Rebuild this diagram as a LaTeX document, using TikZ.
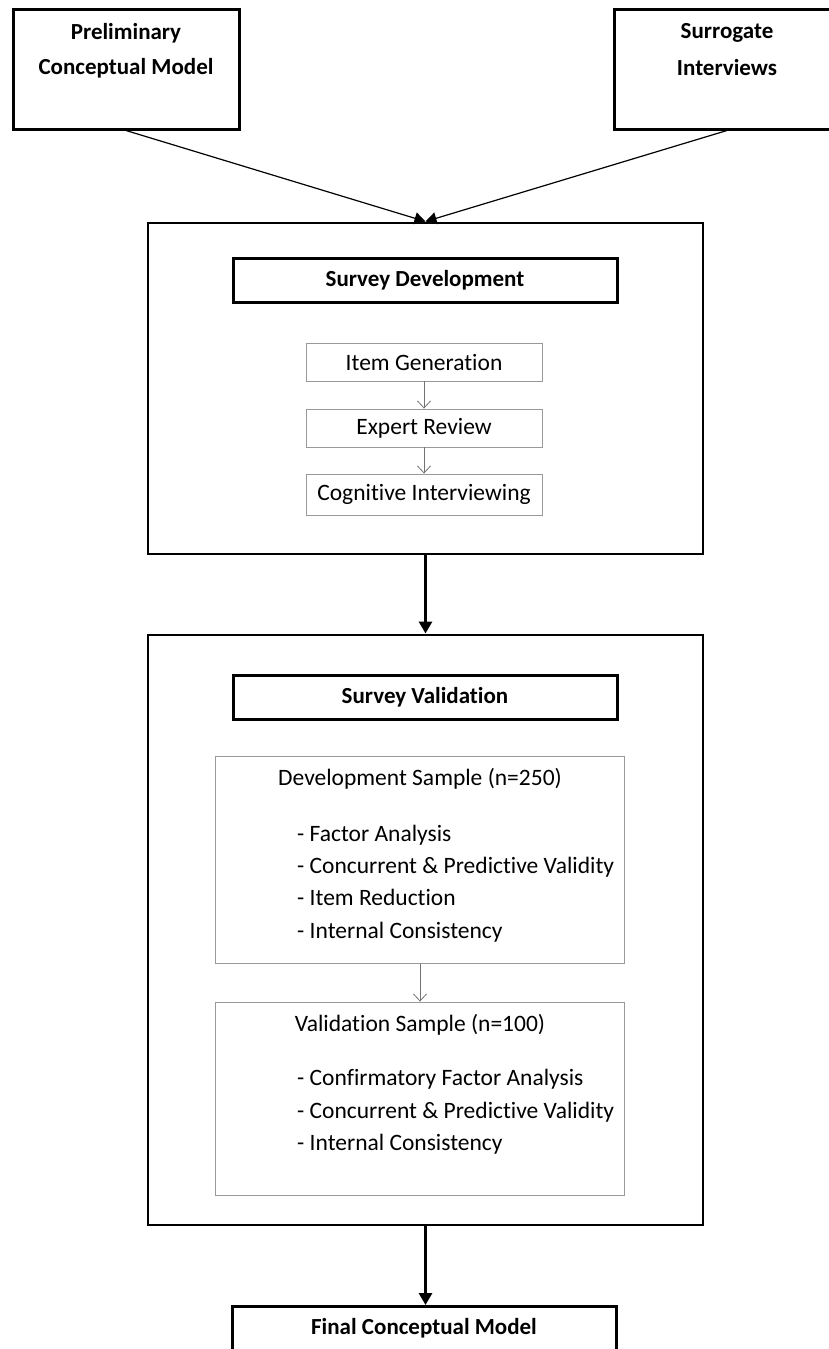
\documentclass[tikz,border=0pt]{standalone}
\usepackage{fontspec}
\setmainfont{Carlito}[RawFeature=-liga]
\usetikzlibrary{arrows.meta}
\begin{document}
\begin{tikzpicture}[x=1pt,y=-1pt,
  topbox/.style={draw, line width=3pt, inner sep=0, minimum width=226pt, minimum height=120pt},
  outerbox/.style={draw, line width=2pt, inner sep=0},
  titlebox/.style={draw, line width=3pt, inner sep=0, minimum width=384pt, minimum height=44pt, font=\fontsize{23}{27}\selectfont\bfseries},
  stepbox/.style={draw=black!40, line width=0.9pt, inner sep=0, minimum width=236pt, font=\fontsize{23.5}{27}\selectfont},
  samplebox/.style={draw=black!40, line width=0.9pt, inner sep=0, minimum width=409pt},
  btxt/.style={inner sep=0, font=\fontsize{23}{27}\selectfont\bfseries},
  rtxt/.style={inner sep=0, font=\fontsize{23.5}{27}\selectfont},
  inarrow/.style={line width=1.2pt, -{Triangle[length=11pt,width=12pt]}},
  bigarrow/.style={line width=3pt, -{Triangle[length=12pt,width=13pt]}},
  smallarrow/.style={draw=black!55, line width=0.8pt, -{Straight Barb[length=7pt,width=13pt,line width=0.8pt]}}
]
\useasboundingbox[fill=white] (0,0) rectangle (829,1349);

% top boxes
\node[topbox] (prelim) at (126,69) {};
\node[btxt] (prelimA) at (126,33) {Preliminary};
\node[btxt] (prelimB) at (126,68) {Conceptual Model};
\node[topbox] (surr) at (727,69) {};
\node[btxt] (surrA) at (727,33) {Surrogate};
\node[btxt] (surrB) at (727,68) {Interviews};

% survey development
\node[outerbox, minimum width=555pt, minimum height=331pt] (sdev) at (425.5,388) {};
\node[titlebox] (sdevT) at (425,280.5) {Survey Development};
\node[stepbox, minimum height=38pt] (item) at (424,362) {Item Generation};
\node[stepbox, minimum height=38pt] (expert) at (424,428) {Expert Review};
\node[stepbox, minimum height=41pt] (cogn) at (424,494.5) {Cognitive Interviewing};

\draw[inarrow] (prelim.south) -- (sdev.north);
\draw[inarrow] (surr.south) -- (sdev.north);
\draw[smallarrow] (item.south) -- (expert.north);
\draw[smallarrow] (expert.south) -- (cogn.north);

% survey validation
\node[outerbox, minimum width=555pt, minimum height=590pt] (sval) at (425.5,929.5) {};
\node[titlebox] (svalT) at (425,697.5) {Survey Validation};
\node[samplebox, minimum height=207pt] (devs) at (420,860) {};
\node[rtxt, anchor=base] (devsT) at (420,785) {Development Sample (n=250)};
\node[rtxt, anchor=base west] (d1) at (297,841) {- Factor Analysis};
\node[rtxt, anchor=base west] (d2) at (297,873) {- Concurrent \& Predictive Validity};
\node[rtxt, anchor=base west] (d3) at (297,905) {- Item Reduction};
\node[rtxt, anchor=base west] (d4) at (297,938) {- Internal Consistency};

\node[samplebox, minimum height=193pt] (vals) at (420,1098.5) {};
\node[rtxt, anchor=base] (valsT) at (420,1031) {Validation Sample (n=100)};
\node[rtxt, anchor=base west] (v1) at (297,1085) {- Confirmatory Factor Analysis};
\node[rtxt, anchor=base west] (v2) at (297,1118) {- Concurrent \& Predictive Validity};
\node[rtxt, anchor=base west] (v3) at (297,1150) {- Internal Consistency};

\draw[smallarrow] (devs.south) -- (vals.north);

\draw[bigarrow] (sdev.south) -- (sval.north);

% final
\node[titlebox, minimum height=60pt, anchor=north] (final) at (424,1305) {};
\node[btxt] (finalT) at (424,1328) {Final Conceptual Model};
\draw[bigarrow] (sval.south) -- (sval.south |- final.north);
\end{tikzpicture}
\end{document}
